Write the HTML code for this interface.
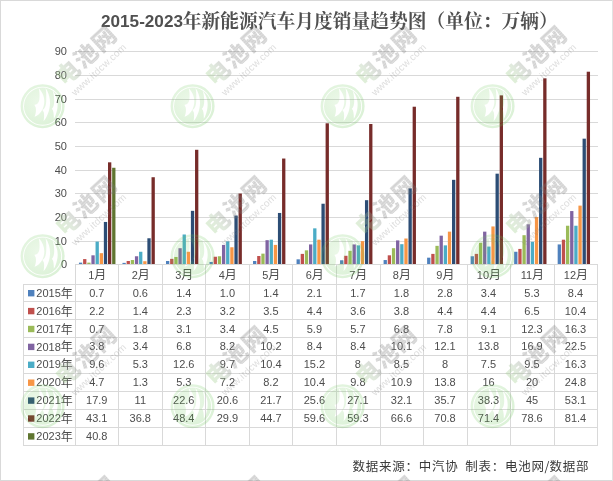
<!DOCTYPE html>
<html lang="zh-CN"><head><meta charset="utf-8"><title>2015-2023年新能源汽车月度销量趋势图</title>
<style>html,body{margin:0;padding:0;background:#fff}svg{display:block}.n{font-family:"Liberation Sans","Noto Sans CJK SC",sans-serif;font-size:11px;fill:#4d4d4d}.c{font-family:"Noto Sans CJK SC","Liberation Sans",sans-serif;font-size:12px;fill:#4d4d4d}</style></head><body>
<svg width="613" height="481" viewBox="0 0 613 481">
<rect x="0" y="0" width="613" height="481" fill="#fff"/>
<g shape-rendering="crispEdges"><rect x="0" y="0" width="613" height="1" fill="#d9d9d9"/><rect x="0" y="480" width="613" height="1" fill="#d9d9d9"/><rect x="0" y="0" width="1" height="481" fill="#d9d9d9"/><rect x="612" y="0" width="1" height="481" fill="#e2e2e2"/></g>
<g fill="#d9d9d9" shape-rendering="crispEdges">
<rect x="75" y="51" width="523" height="1"/>
<rect x="75" y="75" width="523" height="1"/>
<rect x="75" y="99" width="523" height="1"/>
<rect x="75" y="122" width="523" height="1"/>
<rect x="75" y="146" width="523" height="1"/>
<rect x="75" y="170" width="523" height="1"/>
<rect x="75" y="193" width="523" height="1"/>
<rect x="75" y="217" width="523" height="1"/>
<rect x="75" y="241" width="523" height="1"/>
<rect x="75" y="264" width="523" height="1"/>
<rect x="75" y="264" width="1" height="182"/>
<rect x="118" y="264" width="1" height="182"/>
<rect x="162" y="264" width="1" height="182"/>
<rect x="205" y="264" width="1" height="182"/>
<rect x="249" y="264" width="1" height="182"/>
<rect x="292" y="264" width="1" height="182"/>
<rect x="336" y="264" width="1" height="182"/>
<rect x="380" y="264" width="1" height="182"/>
<rect x="423" y="264" width="1" height="182"/>
<rect x="467" y="264" width="1" height="182"/>
<rect x="510" y="264" width="1" height="182"/>
<rect x="554" y="264" width="1" height="182"/>
<rect x="597" y="264" width="1" height="182"/>
<rect x="23" y="284" width="1" height="162"/>
<rect x="23" y="284" width="575" height="1"/>
<rect x="23" y="301" width="575" height="1"/>
<rect x="23" y="319" width="575" height="1"/>
<rect x="23" y="337" width="575" height="1"/>
<rect x="23" y="355" width="575" height="1"/>
<rect x="23" y="373" width="575" height="1"/>
<rect x="23" y="391" width="575" height="1"/>
<rect x="23" y="409" width="575" height="1"/>
<rect x="23" y="427" width="575" height="1"/>
<rect x="23" y="445" width="575" height="1"/>
</g>
<g>
<rect x="78.95" y="262.64" width="3.3" height="1.66" fill="#4F81BD"/>
<rect x="83.10" y="259.09" width="3.3" height="5.21" fill="#C0504D"/>
<rect x="87.25" y="262.64" width="3.3" height="1.66" fill="#9BBB59"/>
<rect x="91.40" y="255.31" width="3.3" height="8.99" fill="#8064A2"/>
<rect x="95.55" y="241.59" width="3.3" height="22.71" fill="#4BACC6"/>
<rect x="99.70" y="253.18" width="3.3" height="11.12" fill="#F79646"/>
<rect x="103.85" y="221.95" width="3.3" height="42.35" fill="#2C4D75"/>
<rect x="108.00" y="162.33" width="3.3" height="101.97" fill="#772C2A"/>
<rect x="112.15" y="167.77" width="3.3" height="96.53" fill="#5F7530"/>
<rect x="122.47" y="262.88" width="3.3" height="1.42" fill="#4F81BD"/>
<rect x="126.62" y="260.99" width="3.3" height="3.31" fill="#C0504D"/>
<rect x="130.77" y="260.04" width="3.3" height="4.26" fill="#9BBB59"/>
<rect x="134.92" y="256.26" width="3.3" height="8.04" fill="#8064A2"/>
<rect x="139.07" y="251.76" width="3.3" height="12.54" fill="#4BACC6"/>
<rect x="143.22" y="261.22" width="3.3" height="3.08" fill="#F79646"/>
<rect x="147.37" y="238.27" width="3.3" height="26.03" fill="#2C4D75"/>
<rect x="151.52" y="177.23" width="3.3" height="87.07" fill="#772C2A"/>
<rect x="165.99" y="260.99" width="3.3" height="3.31" fill="#4F81BD"/>
<rect x="170.14" y="258.86" width="3.3" height="5.44" fill="#C0504D"/>
<rect x="174.29" y="256.97" width="3.3" height="7.33" fill="#9BBB59"/>
<rect x="178.44" y="248.21" width="3.3" height="16.09" fill="#8064A2"/>
<rect x="182.59" y="234.49" width="3.3" height="29.81" fill="#4BACC6"/>
<rect x="186.74" y="251.76" width="3.3" height="12.54" fill="#F79646"/>
<rect x="190.89" y="210.83" width="3.3" height="53.47" fill="#2C4D75"/>
<rect x="195.04" y="149.79" width="3.3" height="114.51" fill="#772C2A"/>
<rect x="209.51" y="261.93" width="3.3" height="2.37" fill="#4F81BD"/>
<rect x="213.66" y="256.73" width="3.3" height="7.57" fill="#C0504D"/>
<rect x="217.81" y="256.26" width="3.3" height="8.04" fill="#9BBB59"/>
<rect x="221.96" y="244.90" width="3.3" height="19.40" fill="#8064A2"/>
<rect x="226.11" y="241.35" width="3.3" height="22.95" fill="#4BACC6"/>
<rect x="230.26" y="247.26" width="3.3" height="17.04" fill="#F79646"/>
<rect x="234.41" y="215.56" width="3.3" height="48.74" fill="#2C4D75"/>
<rect x="238.56" y="193.56" width="3.3" height="70.74" fill="#772C2A"/>
<rect x="253.03" y="260.99" width="3.3" height="3.31" fill="#4F81BD"/>
<rect x="257.18" y="256.02" width="3.3" height="8.28" fill="#C0504D"/>
<rect x="261.33" y="253.65" width="3.3" height="10.65" fill="#9BBB59"/>
<rect x="265.48" y="240.17" width="3.3" height="24.13" fill="#8064A2"/>
<rect x="269.63" y="239.69" width="3.3" height="24.61" fill="#4BACC6"/>
<rect x="273.78" y="244.90" width="3.3" height="19.40" fill="#F79646"/>
<rect x="277.93" y="212.96" width="3.3" height="51.34" fill="#2C4D75"/>
<rect x="282.08" y="158.54" width="3.3" height="105.76" fill="#772C2A"/>
<rect x="296.55" y="259.33" width="3.3" height="4.97" fill="#4F81BD"/>
<rect x="300.70" y="253.89" width="3.3" height="10.41" fill="#C0504D"/>
<rect x="304.85" y="250.34" width="3.3" height="13.96" fill="#9BBB59"/>
<rect x="309.00" y="244.43" width="3.3" height="19.87" fill="#8064A2"/>
<rect x="313.15" y="228.34" width="3.3" height="35.96" fill="#4BACC6"/>
<rect x="317.30" y="239.69" width="3.3" height="24.61" fill="#F79646"/>
<rect x="321.45" y="203.73" width="3.3" height="60.57" fill="#2C4D75"/>
<rect x="325.60" y="123.29" width="3.3" height="141.01" fill="#772C2A"/>
<rect x="340.07" y="260.28" width="3.3" height="4.02" fill="#4F81BD"/>
<rect x="344.22" y="255.78" width="3.3" height="8.52" fill="#C0504D"/>
<rect x="348.37" y="250.81" width="3.3" height="13.49" fill="#9BBB59"/>
<rect x="352.52" y="244.43" width="3.3" height="19.87" fill="#8064A2"/>
<rect x="356.67" y="245.37" width="3.3" height="18.93" fill="#4BACC6"/>
<rect x="360.82" y="241.11" width="3.3" height="23.19" fill="#F79646"/>
<rect x="364.97" y="200.18" width="3.3" height="64.12" fill="#2C4D75"/>
<rect x="369.12" y="124.00" width="3.3" height="140.30" fill="#772C2A"/>
<rect x="383.59" y="260.04" width="3.3" height="4.26" fill="#4F81BD"/>
<rect x="387.74" y="255.31" width="3.3" height="8.99" fill="#C0504D"/>
<rect x="391.89" y="248.21" width="3.3" height="16.09" fill="#9BBB59"/>
<rect x="396.04" y="240.40" width="3.3" height="23.90" fill="#8064A2"/>
<rect x="400.19" y="244.19" width="3.3" height="20.11" fill="#4BACC6"/>
<rect x="404.34" y="238.51" width="3.3" height="25.79" fill="#F79646"/>
<rect x="408.49" y="188.35" width="3.3" height="75.95" fill="#2C4D75"/>
<rect x="412.64" y="106.72" width="3.3" height="157.58" fill="#772C2A"/>
<rect x="427.11" y="257.68" width="3.3" height="6.62" fill="#4F81BD"/>
<rect x="431.26" y="253.89" width="3.3" height="10.41" fill="#C0504D"/>
<rect x="435.41" y="245.85" width="3.3" height="18.45" fill="#9BBB59"/>
<rect x="439.56" y="235.67" width="3.3" height="28.63" fill="#8064A2"/>
<rect x="443.71" y="245.37" width="3.3" height="18.93" fill="#4BACC6"/>
<rect x="447.86" y="231.65" width="3.3" height="32.65" fill="#F79646"/>
<rect x="452.01" y="179.83" width="3.3" height="84.47" fill="#2C4D75"/>
<rect x="456.16" y="96.79" width="3.3" height="167.51" fill="#772C2A"/>
<rect x="470.63" y="256.26" width="3.3" height="8.04" fill="#4F81BD"/>
<rect x="474.78" y="253.89" width="3.3" height="10.41" fill="#C0504D"/>
<rect x="478.93" y="242.77" width="3.3" height="21.53" fill="#9BBB59"/>
<rect x="483.08" y="231.65" width="3.3" height="32.65" fill="#8064A2"/>
<rect x="487.23" y="246.56" width="3.3" height="17.75" fill="#4BACC6"/>
<rect x="491.38" y="226.44" width="3.3" height="37.86" fill="#F79646"/>
<rect x="495.53" y="173.68" width="3.3" height="90.62" fill="#2C4D75"/>
<rect x="499.68" y="95.37" width="3.3" height="168.93" fill="#772C2A"/>
<rect x="514.15" y="251.76" width="3.3" height="12.54" fill="#4F81BD"/>
<rect x="518.30" y="248.92" width="3.3" height="15.38" fill="#C0504D"/>
<rect x="522.45" y="235.20" width="3.3" height="29.10" fill="#9BBB59"/>
<rect x="526.60" y="224.31" width="3.3" height="39.99" fill="#8064A2"/>
<rect x="530.75" y="241.82" width="3.3" height="22.48" fill="#4BACC6"/>
<rect x="534.90" y="216.98" width="3.3" height="47.32" fill="#F79646"/>
<rect x="539.05" y="157.83" width="3.3" height="106.47" fill="#2C4D75"/>
<rect x="543.20" y="78.33" width="3.3" height="185.97" fill="#772C2A"/>
<rect x="557.67" y="244.43" width="3.3" height="19.87" fill="#4F81BD"/>
<rect x="561.82" y="239.69" width="3.3" height="24.61" fill="#C0504D"/>
<rect x="565.97" y="225.73" width="3.3" height="38.57" fill="#9BBB59"/>
<rect x="570.12" y="211.06" width="3.3" height="53.23" fill="#8064A2"/>
<rect x="574.27" y="225.73" width="3.3" height="38.57" fill="#4BACC6"/>
<rect x="578.42" y="205.62" width="3.3" height="58.68" fill="#F79646"/>
<rect x="582.57" y="138.67" width="3.3" height="125.63" fill="#2C4D75"/>
<rect x="586.72" y="71.71" width="3.3" height="192.59" fill="#772C2A"/>
</g>
<rect x="75" y="264" width="523" height="1" fill="#d9d9d9" shape-rendering="crispEdges"/>
<g class="n" text-anchor="end">
<text x="67" y="55.2">90</text>
<text x="67" y="79.2">80</text>
<text x="67" y="103.2">70</text>
<text x="67" y="126.2">60</text>
<text x="67" y="150.2">50</text>
<text x="67" y="174.2">40</text>
<text x="67" y="197.2">30</text>
<text x="67" y="221.2">20</text>
<text x="67" y="245.2">10</text>
<text x="67" y="268.2">0</text>
</g>
<g text-anchor="middle">
<text x="97.2" y="279" class="n">1<tspan class="c">月</tspan></text>
<text x="140.7" y="279" class="n">2<tspan class="c">月</tspan></text>
<text x="184.2" y="279" class="n">3<tspan class="c">月</tspan></text>
<text x="227.8" y="279" class="n">4<tspan class="c">月</tspan></text>
<text x="271.3" y="279" class="n">5<tspan class="c">月</tspan></text>
<text x="314.8" y="279" class="n">6<tspan class="c">月</tspan></text>
<text x="358.3" y="279" class="n">7<tspan class="c">月</tspan></text>
<text x="401.9" y="279" class="n">8<tspan class="c">月</tspan></text>
<text x="445.4" y="279" class="n">9<tspan class="c">月</tspan></text>
<text x="488.9" y="279" class="n">10<tspan class="c">月</tspan></text>
<text x="532.4" y="279" class="n">11<tspan class="c">月</tspan></text>
<text x="575.9" y="279" class="n">12<tspan class="c">月</tspan></text>
</g>
<rect x="28" y="290.0" width="6.4" height="6.4" fill="#4F81BD"/>
<text x="36.3" y="296.8" class="n">2015<tspan class="c" dy="0.9">年</tspan></text>
<g class="n" text-anchor="middle">
<text x="96.8" y="296.7">0.7</text>
<text x="140.3" y="296.7">0.6</text>
<text x="183.8" y="296.7">1.4</text>
<text x="227.4" y="296.7">1.0</text>
<text x="270.9" y="296.7">1.4</text>
<text x="314.4" y="296.7">2.1</text>
<text x="357.9" y="296.7">1.7</text>
<text x="401.5" y="296.7">1.8</text>
<text x="445.0" y="296.7">2.8</text>
<text x="488.5" y="296.7">3.4</text>
<text x="532.0" y="296.7">5.3</text>
<text x="575.5" y="296.7">8.4</text>
</g>
<rect x="28" y="307.9" width="6.4" height="6.4" fill="#C0504D"/>
<text x="36.3" y="314.7" class="n">2016<tspan class="c" dy="0.9">年</tspan></text>
<g class="n" text-anchor="middle">
<text x="96.8" y="314.6">2.2</text>
<text x="140.3" y="314.6">1.4</text>
<text x="183.8" y="314.6">2.3</text>
<text x="227.4" y="314.6">3.2</text>
<text x="270.9" y="314.6">3.5</text>
<text x="314.4" y="314.6">4.4</text>
<text x="357.9" y="314.6">3.6</text>
<text x="401.5" y="314.6">3.8</text>
<text x="445.0" y="314.6">4.4</text>
<text x="488.5" y="314.6">4.4</text>
<text x="532.0" y="314.6">6.5</text>
<text x="575.5" y="314.6">10.4</text>
</g>
<rect x="28" y="325.8" width="6.4" height="6.4" fill="#9BBB59"/>
<text x="36.3" y="332.6" class="n">2017<tspan class="c" dy="0.9">年</tspan></text>
<g class="n" text-anchor="middle">
<text x="96.8" y="332.5">0.7</text>
<text x="140.3" y="332.5">1.8</text>
<text x="183.8" y="332.5">3.1</text>
<text x="227.4" y="332.5">3.4</text>
<text x="270.9" y="332.5">4.5</text>
<text x="314.4" y="332.5">5.9</text>
<text x="357.9" y="332.5">5.7</text>
<text x="401.5" y="332.5">6.8</text>
<text x="445.0" y="332.5">7.8</text>
<text x="488.5" y="332.5">9.1</text>
<text x="532.0" y="332.5">12.3</text>
<text x="575.5" y="332.5">16.3</text>
</g>
<rect x="28" y="343.7" width="6.4" height="6.4" fill="#8064A2"/>
<text x="36.3" y="350.5" class="n">2018<tspan class="c" dy="0.9">年</tspan></text>
<g class="n" text-anchor="middle">
<text x="96.8" y="350.4">3.8</text>
<text x="140.3" y="350.4">3.4</text>
<text x="183.8" y="350.4">6.8</text>
<text x="227.4" y="350.4">8.2</text>
<text x="270.9" y="350.4">10.2</text>
<text x="314.4" y="350.4">8.4</text>
<text x="357.9" y="350.4">8.4</text>
<text x="401.5" y="350.4">10.1</text>
<text x="445.0" y="350.4">12.1</text>
<text x="488.5" y="350.4">13.8</text>
<text x="532.0" y="350.4">16.9</text>
<text x="575.5" y="350.4">22.5</text>
</g>
<rect x="28" y="361.6" width="6.4" height="6.4" fill="#4BACC6"/>
<text x="36.3" y="368.4" class="n">2019<tspan class="c" dy="0.9">年</tspan></text>
<g class="n" text-anchor="middle">
<text x="96.8" y="368.3">9.6</text>
<text x="140.3" y="368.3">5.3</text>
<text x="183.8" y="368.3">12.6</text>
<text x="227.4" y="368.3">9.7</text>
<text x="270.9" y="368.3">10.4</text>
<text x="314.4" y="368.3">15.2</text>
<text x="357.9" y="368.3">8</text>
<text x="401.5" y="368.3">8.5</text>
<text x="445.0" y="368.3">8</text>
<text x="488.5" y="368.3">7.5</text>
<text x="532.0" y="368.3">9.5</text>
<text x="575.5" y="368.3">16.3</text>
</g>
<rect x="28" y="379.5" width="6.4" height="6.4" fill="#F79646"/>
<text x="36.3" y="386.3" class="n">2020<tspan class="c" dy="0.9">年</tspan></text>
<g class="n" text-anchor="middle">
<text x="96.8" y="386.2">4.7</text>
<text x="140.3" y="386.2">1.3</text>
<text x="183.8" y="386.2">5.3</text>
<text x="227.4" y="386.2">7.2</text>
<text x="270.9" y="386.2">8.2</text>
<text x="314.4" y="386.2">10.4</text>
<text x="357.9" y="386.2">9.8</text>
<text x="401.5" y="386.2">10.9</text>
<text x="445.0" y="386.2">13.8</text>
<text x="488.5" y="386.2">16</text>
<text x="532.0" y="386.2">20</text>
<text x="575.5" y="386.2">24.8</text>
</g>
<rect x="28" y="397.4" width="6.4" height="6.4" fill="#2C4D75"/>
<text x="36.3" y="404.2" class="n">2021<tspan class="c" dy="0.9">年</tspan></text>
<g class="n" text-anchor="middle">
<text x="96.8" y="404.1">17.9</text>
<text x="140.3" y="404.1">11</text>
<text x="183.8" y="404.1">22.6</text>
<text x="227.4" y="404.1">20.6</text>
<text x="270.9" y="404.1">21.7</text>
<text x="314.4" y="404.1">25.6</text>
<text x="357.9" y="404.1">27.1</text>
<text x="401.5" y="404.1">32.1</text>
<text x="445.0" y="404.1">35.7</text>
<text x="488.5" y="404.1">38.3</text>
<text x="532.0" y="404.1">45</text>
<text x="575.5" y="404.1">53.1</text>
</g>
<rect x="28" y="415.3" width="6.4" height="6.4" fill="#772C2A"/>
<text x="36.3" y="422.1" class="n">2022<tspan class="c" dy="0.9">年</tspan></text>
<g class="n" text-anchor="middle">
<text x="96.8" y="422.0">43.1</text>
<text x="140.3" y="422.0">36.8</text>
<text x="183.8" y="422.0">48.4</text>
<text x="227.4" y="422.0">29.9</text>
<text x="270.9" y="422.0">44.7</text>
<text x="314.4" y="422.0">59.6</text>
<text x="357.9" y="422.0">59.3</text>
<text x="401.5" y="422.0">66.6</text>
<text x="445.0" y="422.0">70.8</text>
<text x="488.5" y="422.0">71.4</text>
<text x="532.0" y="422.0">78.6</text>
<text x="575.5" y="422.0">81.4</text>
</g>
<rect x="28" y="433.2" width="6.4" height="6.4" fill="#5F7530"/>
<text x="36.3" y="440.0" class="n">2023<tspan class="c" dy="0.9">年</tspan></text>
<g class="n" text-anchor="middle">
<text x="96.8" y="439.9">40.8</text>
</g>
<text x="101" y="26.6" fill="#505050" font-weight="bold" font-family="'Liberation Sans',sans-serif" font-size="17.15">2015-2023</text>
<text x="182.8" y="27.5" fill="#505050" font-weight="bold" font-family="'Noto Serif CJK SC','Liberation Serif',serif" font-size="18.75">年新能源汽车月度销量趋势图（单位：万辆）</text>
<text x="352.6" y="470.6" font-family="'Noto Sans CJK SC','Liberation Sans',sans-serif" font-size="12.50" letter-spacing="0.75" fill="#3a3a3a">数据来源：中汽协</text>
<text x="465.2" y="470.6" font-family="'Noto Sans CJK SC','Liberation Sans',sans-serif" font-size="12.50" letter-spacing="0.75" fill="#3a3a3a">制表：电池网</text>
<text x="547.4" y="470.6" font-family="'Noto Sans CJK SC','Liberation Sans',sans-serif" font-size="12.50" letter-spacing="0.75" fill="#3a3a3a" text-anchor="middle">/</text>
<text x="549.6" y="470.6" font-family="'Noto Sans CJK SC','Liberation Sans',sans-serif" font-size="12.50" letter-spacing="0.75" fill="#3a3a3a">数据部</text>
<defs><pattern id="st" width="4" height="2.4" patternUnits="userSpaceOnUse"><rect width="4" height="1.5" fill="#7a7a7a"/><rect y="1.5" width="4" height="0.9" fill="#7a7a7a" fill-opacity="0.7"/></pattern><pattern id="sg" width="4" height="2.4" patternUnits="userSpaceOnUse"><rect width="4" height="1.5" fill="#9cc88a"/><rect y="1.5" width="4" height="0.9" fill="#9cc88a" fill-opacity="0.7"/></pattern><linearGradient id="eg" gradientUnits="userSpaceOnUse" x1="30" y1="0" x2="53" y2="0"><stop offset="0" stop-color="#9fd288"/><stop offset="0.5" stop-color="#a6c29c"/><stop offset="1" stop-color="#8c8c8c"/></linearGradient><radialGradient id="cg" cx="0.4" cy="0.4" r="0.65"><stop offset="0" stop-color="#72cc5c" stop-opacity="0.14"/><stop offset="1" stop-color="#62c24e" stop-opacity="0.23"/></radialGradient></defs>
<g>
<g transform="translate(42.6 106.2)">
<path fill-rule="evenodd" fill="url(#cg)" d="M-22,0a22,22 0 1,0 44,0a22,22 0 1,0 -44,0Z M-19.5,0a19.5,19.5 0 1,0 39,0a19.5,19.5 0 1,0 -39,0Z M-18.6,0a18.6,18.6 0 1,0 37.2,0a18.6,18.6 0 1,0 -37.2,0Z M-4,-18.2 C2,-12 3.2,-4 0,3 C-2.2,7 -5,9.5 -8,10.5 C-6.6,7 -6.4,4.5 -6.8,1.5 L-8.2,-1.5 C-5.5,-1.2 -3.6,-3.5 -3.2,-7 C-2.8,-11 -3,-15 -4,-18.2Z M3,-18.2 C7.8,-11 8.6,-2 6,5.5 C4.6,9.5 3.2,12.5 1,15 C1.6,11 1.7,8.5 1.2,6 L-0.2,3.8 C2.4,2.6 3.4,-1 3.6,-5 C3.8,-10 3.8,-14 3,-18.2Z M10,-15.6 C14.6,-10 16,-3 14.5,3.5 C13.6,7.5 12.8,10 11.2,12.6 C11.3,9.5 11,6.5 10.4,4.4 L9.2,2.6 C10.9,1.2 11.6,-2 11.6,-5 C11.6,-9 11,-13 10,-15.6Z"/>
<g transform="rotate(-43)">
<text x="29.5" y="1.2" font-family="'Noto Sans CJK SC',sans-serif" font-weight="900" font-size="23.5" fill="url(#st)" fill-opacity="0.34" letter-spacing="1.2"><tspan fill="url(#eg)">电</tspan>池网</text>
<text x="30.5" y="15" font-family="'Liberation Sans',sans-serif" font-size="10" fill="#808080" fill-opacity="0.27" letter-spacing="0.25">www.itdcw.com</text>
</g></g>
<g transform="translate(192.6 106.2)">
<path fill-rule="evenodd" fill="url(#cg)" d="M-22,0a22,22 0 1,0 44,0a22,22 0 1,0 -44,0Z M-19.5,0a19.5,19.5 0 1,0 39,0a19.5,19.5 0 1,0 -39,0Z M-18.6,0a18.6,18.6 0 1,0 37.2,0a18.6,18.6 0 1,0 -37.2,0Z M-4,-18.2 C2,-12 3.2,-4 0,3 C-2.2,7 -5,9.5 -8,10.5 C-6.6,7 -6.4,4.5 -6.8,1.5 L-8.2,-1.5 C-5.5,-1.2 -3.6,-3.5 -3.2,-7 C-2.8,-11 -3,-15 -4,-18.2Z M3,-18.2 C7.8,-11 8.6,-2 6,5.5 C4.6,9.5 3.2,12.5 1,15 C1.6,11 1.7,8.5 1.2,6 L-0.2,3.8 C2.4,2.6 3.4,-1 3.6,-5 C3.8,-10 3.8,-14 3,-18.2Z M10,-15.6 C14.6,-10 16,-3 14.5,3.5 C13.6,7.5 12.8,10 11.2,12.6 C11.3,9.5 11,6.5 10.4,4.4 L9.2,2.6 C10.9,1.2 11.6,-2 11.6,-5 C11.6,-9 11,-13 10,-15.6Z"/>
<g transform="rotate(-43)">
<text x="29.5" y="1.2" font-family="'Noto Sans CJK SC',sans-serif" font-weight="900" font-size="23.5" fill="url(#st)" fill-opacity="0.34" letter-spacing="1.2"><tspan fill="url(#eg)">电</tspan>池网</text>
<text x="30.5" y="15" font-family="'Liberation Sans',sans-serif" font-size="10" fill="#808080" fill-opacity="0.27" letter-spacing="0.25">www.itdcw.com</text>
</g></g>
<g transform="translate(342.6 106.2)">
<path fill-rule="evenodd" fill="url(#cg)" d="M-22,0a22,22 0 1,0 44,0a22,22 0 1,0 -44,0Z M-19.5,0a19.5,19.5 0 1,0 39,0a19.5,19.5 0 1,0 -39,0Z M-18.6,0a18.6,18.6 0 1,0 37.2,0a18.6,18.6 0 1,0 -37.2,0Z M-4,-18.2 C2,-12 3.2,-4 0,3 C-2.2,7 -5,9.5 -8,10.5 C-6.6,7 -6.4,4.5 -6.8,1.5 L-8.2,-1.5 C-5.5,-1.2 -3.6,-3.5 -3.2,-7 C-2.8,-11 -3,-15 -4,-18.2Z M3,-18.2 C7.8,-11 8.6,-2 6,5.5 C4.6,9.5 3.2,12.5 1,15 C1.6,11 1.7,8.5 1.2,6 L-0.2,3.8 C2.4,2.6 3.4,-1 3.6,-5 C3.8,-10 3.8,-14 3,-18.2Z M10,-15.6 C14.6,-10 16,-3 14.5,3.5 C13.6,7.5 12.8,10 11.2,12.6 C11.3,9.5 11,6.5 10.4,4.4 L9.2,2.6 C10.9,1.2 11.6,-2 11.6,-5 C11.6,-9 11,-13 10,-15.6Z"/>
<g transform="rotate(-43)">
<text x="29.5" y="1.2" font-family="'Noto Sans CJK SC',sans-serif" font-weight="900" font-size="23.5" fill="url(#st)" fill-opacity="0.34" letter-spacing="1.2"><tspan fill="url(#eg)">电</tspan>池网</text>
<text x="30.5" y="15" font-family="'Liberation Sans',sans-serif" font-size="10" fill="#808080" fill-opacity="0.27" letter-spacing="0.25">www.itdcw.com</text>
</g></g>
<g transform="translate(492.6 106.2)">
<path fill-rule="evenodd" fill="url(#cg)" d="M-22,0a22,22 0 1,0 44,0a22,22 0 1,0 -44,0Z M-19.5,0a19.5,19.5 0 1,0 39,0a19.5,19.5 0 1,0 -39,0Z M-18.6,0a18.6,18.6 0 1,0 37.2,0a18.6,18.6 0 1,0 -37.2,0Z M-4,-18.2 C2,-12 3.2,-4 0,3 C-2.2,7 -5,9.5 -8,10.5 C-6.6,7 -6.4,4.5 -6.8,1.5 L-8.2,-1.5 C-5.5,-1.2 -3.6,-3.5 -3.2,-7 C-2.8,-11 -3,-15 -4,-18.2Z M3,-18.2 C7.8,-11 8.6,-2 6,5.5 C4.6,9.5 3.2,12.5 1,15 C1.6,11 1.7,8.5 1.2,6 L-0.2,3.8 C2.4,2.6 3.4,-1 3.6,-5 C3.8,-10 3.8,-14 3,-18.2Z M10,-15.6 C14.6,-10 16,-3 14.5,3.5 C13.6,7.5 12.8,10 11.2,12.6 C11.3,9.5 11,6.5 10.4,4.4 L9.2,2.6 C10.9,1.2 11.6,-2 11.6,-5 C11.6,-9 11,-13 10,-15.6Z"/>
<g transform="rotate(-43)">
<text x="29.5" y="1.2" font-family="'Noto Sans CJK SC',sans-serif" font-weight="900" font-size="23.5" fill="url(#st)" fill-opacity="0.34" letter-spacing="1.2"><tspan fill="url(#eg)">电</tspan>池网</text>
<text x="30.5" y="15" font-family="'Liberation Sans',sans-serif" font-size="10" fill="#808080" fill-opacity="0.27" letter-spacing="0.25">www.itdcw.com</text>
</g></g>
<g transform="translate(42.6 256.2)">
<path fill-rule="evenodd" fill="url(#cg)" d="M-22,0a22,22 0 1,0 44,0a22,22 0 1,0 -44,0Z M-19.5,0a19.5,19.5 0 1,0 39,0a19.5,19.5 0 1,0 -39,0Z M-18.6,0a18.6,18.6 0 1,0 37.2,0a18.6,18.6 0 1,0 -37.2,0Z M-4,-18.2 C2,-12 3.2,-4 0,3 C-2.2,7 -5,9.5 -8,10.5 C-6.6,7 -6.4,4.5 -6.8,1.5 L-8.2,-1.5 C-5.5,-1.2 -3.6,-3.5 -3.2,-7 C-2.8,-11 -3,-15 -4,-18.2Z M3,-18.2 C7.8,-11 8.6,-2 6,5.5 C4.6,9.5 3.2,12.5 1,15 C1.6,11 1.7,8.5 1.2,6 L-0.2,3.8 C2.4,2.6 3.4,-1 3.6,-5 C3.8,-10 3.8,-14 3,-18.2Z M10,-15.6 C14.6,-10 16,-3 14.5,3.5 C13.6,7.5 12.8,10 11.2,12.6 C11.3,9.5 11,6.5 10.4,4.4 L9.2,2.6 C10.9,1.2 11.6,-2 11.6,-5 C11.6,-9 11,-13 10,-15.6Z"/>
<g transform="rotate(-43)">
<text x="29.5" y="1.2" font-family="'Noto Sans CJK SC',sans-serif" font-weight="900" font-size="23.5" fill="url(#st)" fill-opacity="0.34" letter-spacing="1.2"><tspan fill="url(#eg)">电</tspan>池网</text>
<text x="30.5" y="15" font-family="'Liberation Sans',sans-serif" font-size="10" fill="#808080" fill-opacity="0.27" letter-spacing="0.25">www.itdcw.com</text>
</g></g>
<g transform="translate(192.6 256.2)">
<path fill-rule="evenodd" fill="url(#cg)" d="M-22,0a22,22 0 1,0 44,0a22,22 0 1,0 -44,0Z M-19.5,0a19.5,19.5 0 1,0 39,0a19.5,19.5 0 1,0 -39,0Z M-18.6,0a18.6,18.6 0 1,0 37.2,0a18.6,18.6 0 1,0 -37.2,0Z M-4,-18.2 C2,-12 3.2,-4 0,3 C-2.2,7 -5,9.5 -8,10.5 C-6.6,7 -6.4,4.5 -6.8,1.5 L-8.2,-1.5 C-5.5,-1.2 -3.6,-3.5 -3.2,-7 C-2.8,-11 -3,-15 -4,-18.2Z M3,-18.2 C7.8,-11 8.6,-2 6,5.5 C4.6,9.5 3.2,12.5 1,15 C1.6,11 1.7,8.5 1.2,6 L-0.2,3.8 C2.4,2.6 3.4,-1 3.6,-5 C3.8,-10 3.8,-14 3,-18.2Z M10,-15.6 C14.6,-10 16,-3 14.5,3.5 C13.6,7.5 12.8,10 11.2,12.6 C11.3,9.5 11,6.5 10.4,4.4 L9.2,2.6 C10.9,1.2 11.6,-2 11.6,-5 C11.6,-9 11,-13 10,-15.6Z"/>
<g transform="rotate(-43)">
<text x="29.5" y="1.2" font-family="'Noto Sans CJK SC',sans-serif" font-weight="900" font-size="23.5" fill="url(#st)" fill-opacity="0.34" letter-spacing="1.2"><tspan fill="url(#eg)">电</tspan>池网</text>
<text x="30.5" y="15" font-family="'Liberation Sans',sans-serif" font-size="10" fill="#808080" fill-opacity="0.27" letter-spacing="0.25">www.itdcw.com</text>
</g></g>
<g transform="translate(342.6 256.2)">
<path fill-rule="evenodd" fill="url(#cg)" d="M-22,0a22,22 0 1,0 44,0a22,22 0 1,0 -44,0Z M-19.5,0a19.5,19.5 0 1,0 39,0a19.5,19.5 0 1,0 -39,0Z M-18.6,0a18.6,18.6 0 1,0 37.2,0a18.6,18.6 0 1,0 -37.2,0Z M-4,-18.2 C2,-12 3.2,-4 0,3 C-2.2,7 -5,9.5 -8,10.5 C-6.6,7 -6.4,4.5 -6.8,1.5 L-8.2,-1.5 C-5.5,-1.2 -3.6,-3.5 -3.2,-7 C-2.8,-11 -3,-15 -4,-18.2Z M3,-18.2 C7.8,-11 8.6,-2 6,5.5 C4.6,9.5 3.2,12.5 1,15 C1.6,11 1.7,8.5 1.2,6 L-0.2,3.8 C2.4,2.6 3.4,-1 3.6,-5 C3.8,-10 3.8,-14 3,-18.2Z M10,-15.6 C14.6,-10 16,-3 14.5,3.5 C13.6,7.5 12.8,10 11.2,12.6 C11.3,9.5 11,6.5 10.4,4.4 L9.2,2.6 C10.9,1.2 11.6,-2 11.6,-5 C11.6,-9 11,-13 10,-15.6Z"/>
<g transform="rotate(-43)">
<text x="29.5" y="1.2" font-family="'Noto Sans CJK SC',sans-serif" font-weight="900" font-size="23.5" fill="url(#st)" fill-opacity="0.34" letter-spacing="1.2"><tspan fill="url(#eg)">电</tspan>池网</text>
<text x="30.5" y="15" font-family="'Liberation Sans',sans-serif" font-size="10" fill="#808080" fill-opacity="0.27" letter-spacing="0.25">www.itdcw.com</text>
</g></g>
<g transform="translate(492.6 256.2)">
<path fill-rule="evenodd" fill="url(#cg)" d="M-22,0a22,22 0 1,0 44,0a22,22 0 1,0 -44,0Z M-19.5,0a19.5,19.5 0 1,0 39,0a19.5,19.5 0 1,0 -39,0Z M-18.6,0a18.6,18.6 0 1,0 37.2,0a18.6,18.6 0 1,0 -37.2,0Z M-4,-18.2 C2,-12 3.2,-4 0,3 C-2.2,7 -5,9.5 -8,10.5 C-6.6,7 -6.4,4.5 -6.8,1.5 L-8.2,-1.5 C-5.5,-1.2 -3.6,-3.5 -3.2,-7 C-2.8,-11 -3,-15 -4,-18.2Z M3,-18.2 C7.8,-11 8.6,-2 6,5.5 C4.6,9.5 3.2,12.5 1,15 C1.6,11 1.7,8.5 1.2,6 L-0.2,3.8 C2.4,2.6 3.4,-1 3.6,-5 C3.8,-10 3.8,-14 3,-18.2Z M10,-15.6 C14.6,-10 16,-3 14.5,3.5 C13.6,7.5 12.8,10 11.2,12.6 C11.3,9.5 11,6.5 10.4,4.4 L9.2,2.6 C10.9,1.2 11.6,-2 11.6,-5 C11.6,-9 11,-13 10,-15.6Z"/>
<g transform="rotate(-43)">
<text x="29.5" y="1.2" font-family="'Noto Sans CJK SC',sans-serif" font-weight="900" font-size="23.5" fill="url(#st)" fill-opacity="0.34" letter-spacing="1.2"><tspan fill="url(#eg)">电</tspan>池网</text>
<text x="30.5" y="15" font-family="'Liberation Sans',sans-serif" font-size="10" fill="#808080" fill-opacity="0.27" letter-spacing="0.25">www.itdcw.com</text>
</g></g>
<g transform="translate(42.6 406.2)">
<path fill-rule="evenodd" fill="url(#cg)" d="M-22,0a22,22 0 1,0 44,0a22,22 0 1,0 -44,0Z M-19.5,0a19.5,19.5 0 1,0 39,0a19.5,19.5 0 1,0 -39,0Z M-18.6,0a18.6,18.6 0 1,0 37.2,0a18.6,18.6 0 1,0 -37.2,0Z M-4,-18.2 C2,-12 3.2,-4 0,3 C-2.2,7 -5,9.5 -8,10.5 C-6.6,7 -6.4,4.5 -6.8,1.5 L-8.2,-1.5 C-5.5,-1.2 -3.6,-3.5 -3.2,-7 C-2.8,-11 -3,-15 -4,-18.2Z M3,-18.2 C7.8,-11 8.6,-2 6,5.5 C4.6,9.5 3.2,12.5 1,15 C1.6,11 1.7,8.5 1.2,6 L-0.2,3.8 C2.4,2.6 3.4,-1 3.6,-5 C3.8,-10 3.8,-14 3,-18.2Z M10,-15.6 C14.6,-10 16,-3 14.5,3.5 C13.6,7.5 12.8,10 11.2,12.6 C11.3,9.5 11,6.5 10.4,4.4 L9.2,2.6 C10.9,1.2 11.6,-2 11.6,-5 C11.6,-9 11,-13 10,-15.6Z"/>
<g transform="rotate(-43)">
<text x="29.5" y="1.2" font-family="'Noto Sans CJK SC',sans-serif" font-weight="900" font-size="23.5" fill="url(#st)" fill-opacity="0.34" letter-spacing="1.2"><tspan fill="url(#eg)">电</tspan>池网</text>
<text x="30.5" y="15" font-family="'Liberation Sans',sans-serif" font-size="10" fill="#808080" fill-opacity="0.27" letter-spacing="0.25">www.itdcw.com</text>
</g></g>
<g transform="translate(192.6 406.2)">
<path fill-rule="evenodd" fill="url(#cg)" d="M-22,0a22,22 0 1,0 44,0a22,22 0 1,0 -44,0Z M-19.5,0a19.5,19.5 0 1,0 39,0a19.5,19.5 0 1,0 -39,0Z M-18.6,0a18.6,18.6 0 1,0 37.2,0a18.6,18.6 0 1,0 -37.2,0Z M-4,-18.2 C2,-12 3.2,-4 0,3 C-2.2,7 -5,9.5 -8,10.5 C-6.6,7 -6.4,4.5 -6.8,1.5 L-8.2,-1.5 C-5.5,-1.2 -3.6,-3.5 -3.2,-7 C-2.8,-11 -3,-15 -4,-18.2Z M3,-18.2 C7.8,-11 8.6,-2 6,5.5 C4.6,9.5 3.2,12.5 1,15 C1.6,11 1.7,8.5 1.2,6 L-0.2,3.8 C2.4,2.6 3.4,-1 3.6,-5 C3.8,-10 3.8,-14 3,-18.2Z M10,-15.6 C14.6,-10 16,-3 14.5,3.5 C13.6,7.5 12.8,10 11.2,12.6 C11.3,9.5 11,6.5 10.4,4.4 L9.2,2.6 C10.9,1.2 11.6,-2 11.6,-5 C11.6,-9 11,-13 10,-15.6Z"/>
<g transform="rotate(-43)">
<text x="29.5" y="1.2" font-family="'Noto Sans CJK SC',sans-serif" font-weight="900" font-size="23.5" fill="url(#st)" fill-opacity="0.34" letter-spacing="1.2"><tspan fill="url(#eg)">电</tspan>池网</text>
<text x="30.5" y="15" font-family="'Liberation Sans',sans-serif" font-size="10" fill="#808080" fill-opacity="0.27" letter-spacing="0.25">www.itdcw.com</text>
</g></g>
<g transform="translate(342.6 406.2)">
<path fill-rule="evenodd" fill="url(#cg)" d="M-22,0a22,22 0 1,0 44,0a22,22 0 1,0 -44,0Z M-19.5,0a19.5,19.5 0 1,0 39,0a19.5,19.5 0 1,0 -39,0Z M-18.6,0a18.6,18.6 0 1,0 37.2,0a18.6,18.6 0 1,0 -37.2,0Z M-4,-18.2 C2,-12 3.2,-4 0,3 C-2.2,7 -5,9.5 -8,10.5 C-6.6,7 -6.4,4.5 -6.8,1.5 L-8.2,-1.5 C-5.5,-1.2 -3.6,-3.5 -3.2,-7 C-2.8,-11 -3,-15 -4,-18.2Z M3,-18.2 C7.8,-11 8.6,-2 6,5.5 C4.6,9.5 3.2,12.5 1,15 C1.6,11 1.7,8.5 1.2,6 L-0.2,3.8 C2.4,2.6 3.4,-1 3.6,-5 C3.8,-10 3.8,-14 3,-18.2Z M10,-15.6 C14.6,-10 16,-3 14.5,3.5 C13.6,7.5 12.8,10 11.2,12.6 C11.3,9.5 11,6.5 10.4,4.4 L9.2,2.6 C10.9,1.2 11.6,-2 11.6,-5 C11.6,-9 11,-13 10,-15.6Z"/>
<g transform="rotate(-43)">
<text x="29.5" y="1.2" font-family="'Noto Sans CJK SC',sans-serif" font-weight="900" font-size="23.5" fill="url(#st)" fill-opacity="0.34" letter-spacing="1.2"><tspan fill="url(#eg)">电</tspan>池网</text>
<text x="30.5" y="15" font-family="'Liberation Sans',sans-serif" font-size="10" fill="#808080" fill-opacity="0.27" letter-spacing="0.25">www.itdcw.com</text>
</g></g>
<g transform="translate(492.6 406.2)">
<path fill-rule="evenodd" fill="url(#cg)" d="M-22,0a22,22 0 1,0 44,0a22,22 0 1,0 -44,0Z M-19.5,0a19.5,19.5 0 1,0 39,0a19.5,19.5 0 1,0 -39,0Z M-18.6,0a18.6,18.6 0 1,0 37.2,0a18.6,18.6 0 1,0 -37.2,0Z M-4,-18.2 C2,-12 3.2,-4 0,3 C-2.2,7 -5,9.5 -8,10.5 C-6.6,7 -6.4,4.5 -6.8,1.5 L-8.2,-1.5 C-5.5,-1.2 -3.6,-3.5 -3.2,-7 C-2.8,-11 -3,-15 -4,-18.2Z M3,-18.2 C7.8,-11 8.6,-2 6,5.5 C4.6,9.5 3.2,12.5 1,15 C1.6,11 1.7,8.5 1.2,6 L-0.2,3.8 C2.4,2.6 3.4,-1 3.6,-5 C3.8,-10 3.8,-14 3,-18.2Z M10,-15.6 C14.6,-10 16,-3 14.5,3.5 C13.6,7.5 12.8,10 11.2,12.6 C11.3,9.5 11,6.5 10.4,4.4 L9.2,2.6 C10.9,1.2 11.6,-2 11.6,-5 C11.6,-9 11,-13 10,-15.6Z"/>
<g transform="rotate(-43)">
<text x="29.5" y="1.2" font-family="'Noto Sans CJK SC',sans-serif" font-weight="900" font-size="23.5" fill="url(#st)" fill-opacity="0.34" letter-spacing="1.2"><tspan fill="url(#eg)">电</tspan>池网</text>
<text x="30.5" y="15" font-family="'Liberation Sans',sans-serif" font-size="10" fill="#808080" fill-opacity="0.27" letter-spacing="0.25">www.itdcw.com</text>
</g></g>
<g transform="translate(42.6 556.2)">
<path fill-rule="evenodd" fill="url(#cg)" d="M-22,0a22,22 0 1,0 44,0a22,22 0 1,0 -44,0Z M-19.5,0a19.5,19.5 0 1,0 39,0a19.5,19.5 0 1,0 -39,0Z M-18.6,0a18.6,18.6 0 1,0 37.2,0a18.6,18.6 0 1,0 -37.2,0Z M-4,-18.2 C2,-12 3.2,-4 0,3 C-2.2,7 -5,9.5 -8,10.5 C-6.6,7 -6.4,4.5 -6.8,1.5 L-8.2,-1.5 C-5.5,-1.2 -3.6,-3.5 -3.2,-7 C-2.8,-11 -3,-15 -4,-18.2Z M3,-18.2 C7.8,-11 8.6,-2 6,5.5 C4.6,9.5 3.2,12.5 1,15 C1.6,11 1.7,8.5 1.2,6 L-0.2,3.8 C2.4,2.6 3.4,-1 3.6,-5 C3.8,-10 3.8,-14 3,-18.2Z M10,-15.6 C14.6,-10 16,-3 14.5,3.5 C13.6,7.5 12.8,10 11.2,12.6 C11.3,9.5 11,6.5 10.4,4.4 L9.2,2.6 C10.9,1.2 11.6,-2 11.6,-5 C11.6,-9 11,-13 10,-15.6Z"/>
<g transform="rotate(-43)">
<text x="29.5" y="1.2" font-family="'Noto Sans CJK SC',sans-serif" font-weight="900" font-size="23.5" fill="url(#st)" fill-opacity="0.34" letter-spacing="1.2"><tspan fill="url(#eg)">电</tspan>池网</text>
<text x="30.5" y="15" font-family="'Liberation Sans',sans-serif" font-size="10" fill="#808080" fill-opacity="0.27" letter-spacing="0.25">www.itdcw.com</text>
</g></g>
<g transform="translate(192.6 556.2)">
<path fill-rule="evenodd" fill="url(#cg)" d="M-22,0a22,22 0 1,0 44,0a22,22 0 1,0 -44,0Z M-19.5,0a19.5,19.5 0 1,0 39,0a19.5,19.5 0 1,0 -39,0Z M-18.6,0a18.6,18.6 0 1,0 37.2,0a18.6,18.6 0 1,0 -37.2,0Z M-4,-18.2 C2,-12 3.2,-4 0,3 C-2.2,7 -5,9.5 -8,10.5 C-6.6,7 -6.4,4.5 -6.8,1.5 L-8.2,-1.5 C-5.5,-1.2 -3.6,-3.5 -3.2,-7 C-2.8,-11 -3,-15 -4,-18.2Z M3,-18.2 C7.8,-11 8.6,-2 6,5.5 C4.6,9.5 3.2,12.5 1,15 C1.6,11 1.7,8.5 1.2,6 L-0.2,3.8 C2.4,2.6 3.4,-1 3.6,-5 C3.8,-10 3.8,-14 3,-18.2Z M10,-15.6 C14.6,-10 16,-3 14.5,3.5 C13.6,7.5 12.8,10 11.2,12.6 C11.3,9.5 11,6.5 10.4,4.4 L9.2,2.6 C10.9,1.2 11.6,-2 11.6,-5 C11.6,-9 11,-13 10,-15.6Z"/>
<g transform="rotate(-43)">
<text x="29.5" y="1.2" font-family="'Noto Sans CJK SC',sans-serif" font-weight="900" font-size="23.5" fill="url(#st)" fill-opacity="0.34" letter-spacing="1.2"><tspan fill="url(#eg)">电</tspan>池网</text>
<text x="30.5" y="15" font-family="'Liberation Sans',sans-serif" font-size="10" fill="#808080" fill-opacity="0.27" letter-spacing="0.25">www.itdcw.com</text>
</g></g>
<g transform="translate(342.6 556.2)">
<path fill-rule="evenodd" fill="url(#cg)" d="M-22,0a22,22 0 1,0 44,0a22,22 0 1,0 -44,0Z M-19.5,0a19.5,19.5 0 1,0 39,0a19.5,19.5 0 1,0 -39,0Z M-18.6,0a18.6,18.6 0 1,0 37.2,0a18.6,18.6 0 1,0 -37.2,0Z M-4,-18.2 C2,-12 3.2,-4 0,3 C-2.2,7 -5,9.5 -8,10.5 C-6.6,7 -6.4,4.5 -6.8,1.5 L-8.2,-1.5 C-5.5,-1.2 -3.6,-3.5 -3.2,-7 C-2.8,-11 -3,-15 -4,-18.2Z M3,-18.2 C7.8,-11 8.6,-2 6,5.5 C4.6,9.5 3.2,12.5 1,15 C1.6,11 1.7,8.5 1.2,6 L-0.2,3.8 C2.4,2.6 3.4,-1 3.6,-5 C3.8,-10 3.8,-14 3,-18.2Z M10,-15.6 C14.6,-10 16,-3 14.5,3.5 C13.6,7.5 12.8,10 11.2,12.6 C11.3,9.5 11,6.5 10.4,4.4 L9.2,2.6 C10.9,1.2 11.6,-2 11.6,-5 C11.6,-9 11,-13 10,-15.6Z"/>
<g transform="rotate(-43)">
<text x="29.5" y="1.2" font-family="'Noto Sans CJK SC',sans-serif" font-weight="900" font-size="23.5" fill="url(#st)" fill-opacity="0.34" letter-spacing="1.2"><tspan fill="url(#eg)">电</tspan>池网</text>
<text x="30.5" y="15" font-family="'Liberation Sans',sans-serif" font-size="10" fill="#808080" fill-opacity="0.27" letter-spacing="0.25">www.itdcw.com</text>
</g></g>
<g transform="translate(492.6 556.2)">
<path fill-rule="evenodd" fill="url(#cg)" d="M-22,0a22,22 0 1,0 44,0a22,22 0 1,0 -44,0Z M-19.5,0a19.5,19.5 0 1,0 39,0a19.5,19.5 0 1,0 -39,0Z M-18.6,0a18.6,18.6 0 1,0 37.2,0a18.6,18.6 0 1,0 -37.2,0Z M-4,-18.2 C2,-12 3.2,-4 0,3 C-2.2,7 -5,9.5 -8,10.5 C-6.6,7 -6.4,4.5 -6.8,1.5 L-8.2,-1.5 C-5.5,-1.2 -3.6,-3.5 -3.2,-7 C-2.8,-11 -3,-15 -4,-18.2Z M3,-18.2 C7.8,-11 8.6,-2 6,5.5 C4.6,9.5 3.2,12.5 1,15 C1.6,11 1.7,8.5 1.2,6 L-0.2,3.8 C2.4,2.6 3.4,-1 3.6,-5 C3.8,-10 3.8,-14 3,-18.2Z M10,-15.6 C14.6,-10 16,-3 14.5,3.5 C13.6,7.5 12.8,10 11.2,12.6 C11.3,9.5 11,6.5 10.4,4.4 L9.2,2.6 C10.9,1.2 11.6,-2 11.6,-5 C11.6,-9 11,-13 10,-15.6Z"/>
<g transform="rotate(-43)">
<text x="29.5" y="1.2" font-family="'Noto Sans CJK SC',sans-serif" font-weight="900" font-size="23.5" fill="url(#st)" fill-opacity="0.34" letter-spacing="1.2"><tspan fill="url(#eg)">电</tspan>池网</text>
<text x="30.5" y="15" font-family="'Liberation Sans',sans-serif" font-size="10" fill="#808080" fill-opacity="0.27" letter-spacing="0.25">www.itdcw.com</text>
</g></g>
</g>
</svg></body></html>
